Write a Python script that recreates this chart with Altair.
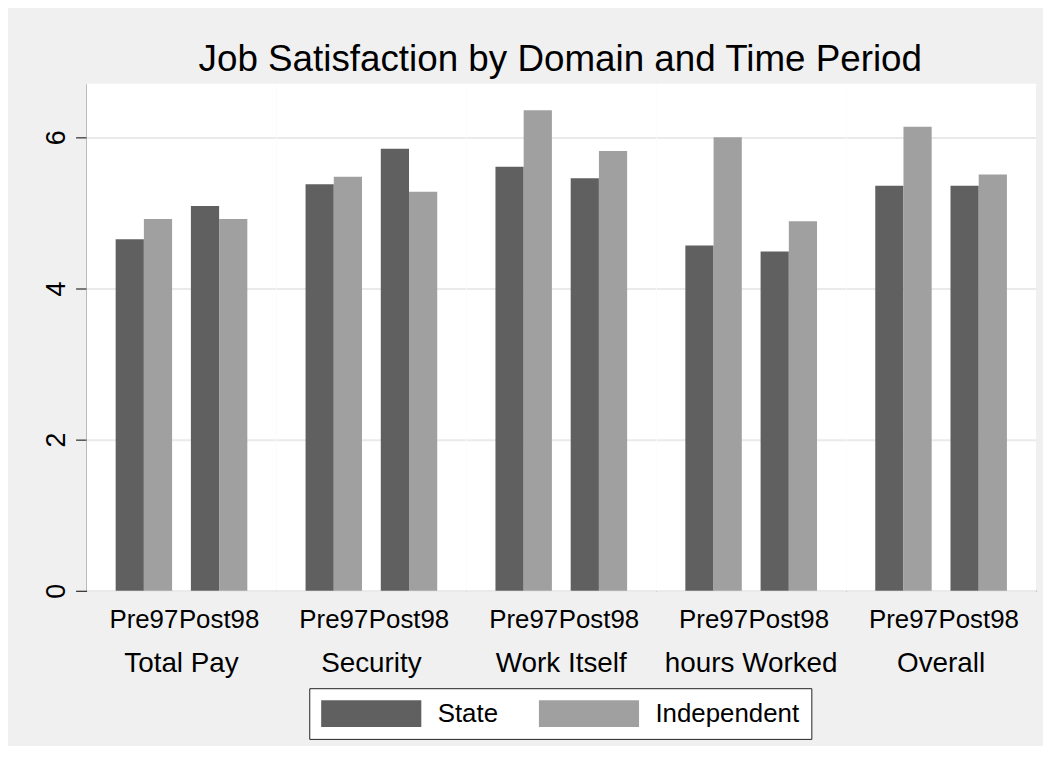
import altair as alt
import pandas as pd

# ---- data ----
domains = ["Total Pay", "Security", "Work Itself", "hours Worked", "Overall"]
periods = ["Pre97", "Post98"]
series = ["State", "Independent"]
# order: for each domain -> Pre97, Post98
state_values = [4.65, 5.09, 5.38, 5.85, 5.61, 5.46, 4.57, 4.49, 5.36, 5.36]
independent_values = [4.92, 4.92, 5.48, 5.28, 6.36, 5.82, 6.00, 4.89, 6.14, 5.51]
y_ticks = [0, 2, 4, 6]
title_text = "Job Satisfaction by Domain and Time Period"

rows = []
for i, d in enumerate(domains):
    for j, p in enumerate(periods):
        k = i * 2 + j
        rows.append({"Domain": d, "Period": p, "Series": series[0], "Value": state_values[k]})
        rows.append({"Domain": d, "Period": p, "Series": series[1], "Value": independent_values[k]})
df = pd.DataFrame(rows)

FONT = "Liberation Sans"

x_enc = alt.X(
    "Period:N", sort=periods,
    scale=alt.Scale(domain=periods, paddingInner=0.25, paddingOuter=0.387),
    axis=alt.Axis(title=None, labelAngle=0, labelFontSize=26, labelFont=FONT,
                  labelColor="black", labelPadding=16, labelBaseline="top",
                  labelOverlap=False, ticks=False, domainColor="black",
                  domainWidth=1, grid=False),
)
x_off = alt.XOffset(
    "Series:N", sort=series,
    scale=alt.Scale(domain=series, paddingInner=0, paddingOuter=0),
)
y_enc = alt.Y(
    "Value:Q",
    scale=alt.Scale(domain=[0, 6.71], nice=False, zero=True),
    axis=alt.Axis(title=None, values=y_ticks, tickSize=11, tickColor="black",
                  tickWidth=1, domainColor="black", domainWidth=1,
                  labelAngle=270, labelAlign="center", labelBaseline="bottom",
                  labelFontSize=27, labelFont=FONT, labelColor="black",
                  labelPadding=5, grid=True, gridColor="#EAEAEA", gridWidth=2),
)
color_enc = alt.Color(
    "Series:N",
    scale=alt.Scale(domain=series, range=["#606060", "#A0A0A0"]),
    legend=alt.Legend(
        title=None, orient="none", legendX=224, legendY=608,
        direction="horizontal",
        symbolType="M-3.73,-1H3.73V1H-3.73Z", symbolSize=729,
        symbolOffset=36.85, symbolStrokeWidth=0, symbolOpacity=1,
        labelFontSize=26, labelFont=FONT, labelColor="black",
        labelOffset=53.3, columnPadding=40, padding=12,
        strokeColor="#222222", fillColor="white", cornerRadius=0,
    ),
)
col_enc = alt.Column(
    "Domain:N", sort=domains, title=None,
    header=alt.Header(labelOrient="bottom", labelFontSize=28, labelFont=FONT,
                      labelColor="black", labelPadding=18),
)

chart = alt.Chart(df).mark_bar().encode(
    x=x_enc, xOffset=x_off, y=y_enc, color=color_enc, column=col_enc,
).properties(
    width=191,
    height=510,
).properties(
    title=alt.TitleParams(text=title_text, fontSize=37, font=FONT,
                          fontWeight="normal", color="black",
                          anchor="middle", offset=5, dx=21),
    padding={"left": 34, "top": 31, "right": 7, "bottom": 4},
    background="#F0F0F0",
).configure_facet(spacing=-1).configure_view(fill="white", stroke=None)

chart.save("out.html", embed_options={"renderer": "svg", "actions": False})
